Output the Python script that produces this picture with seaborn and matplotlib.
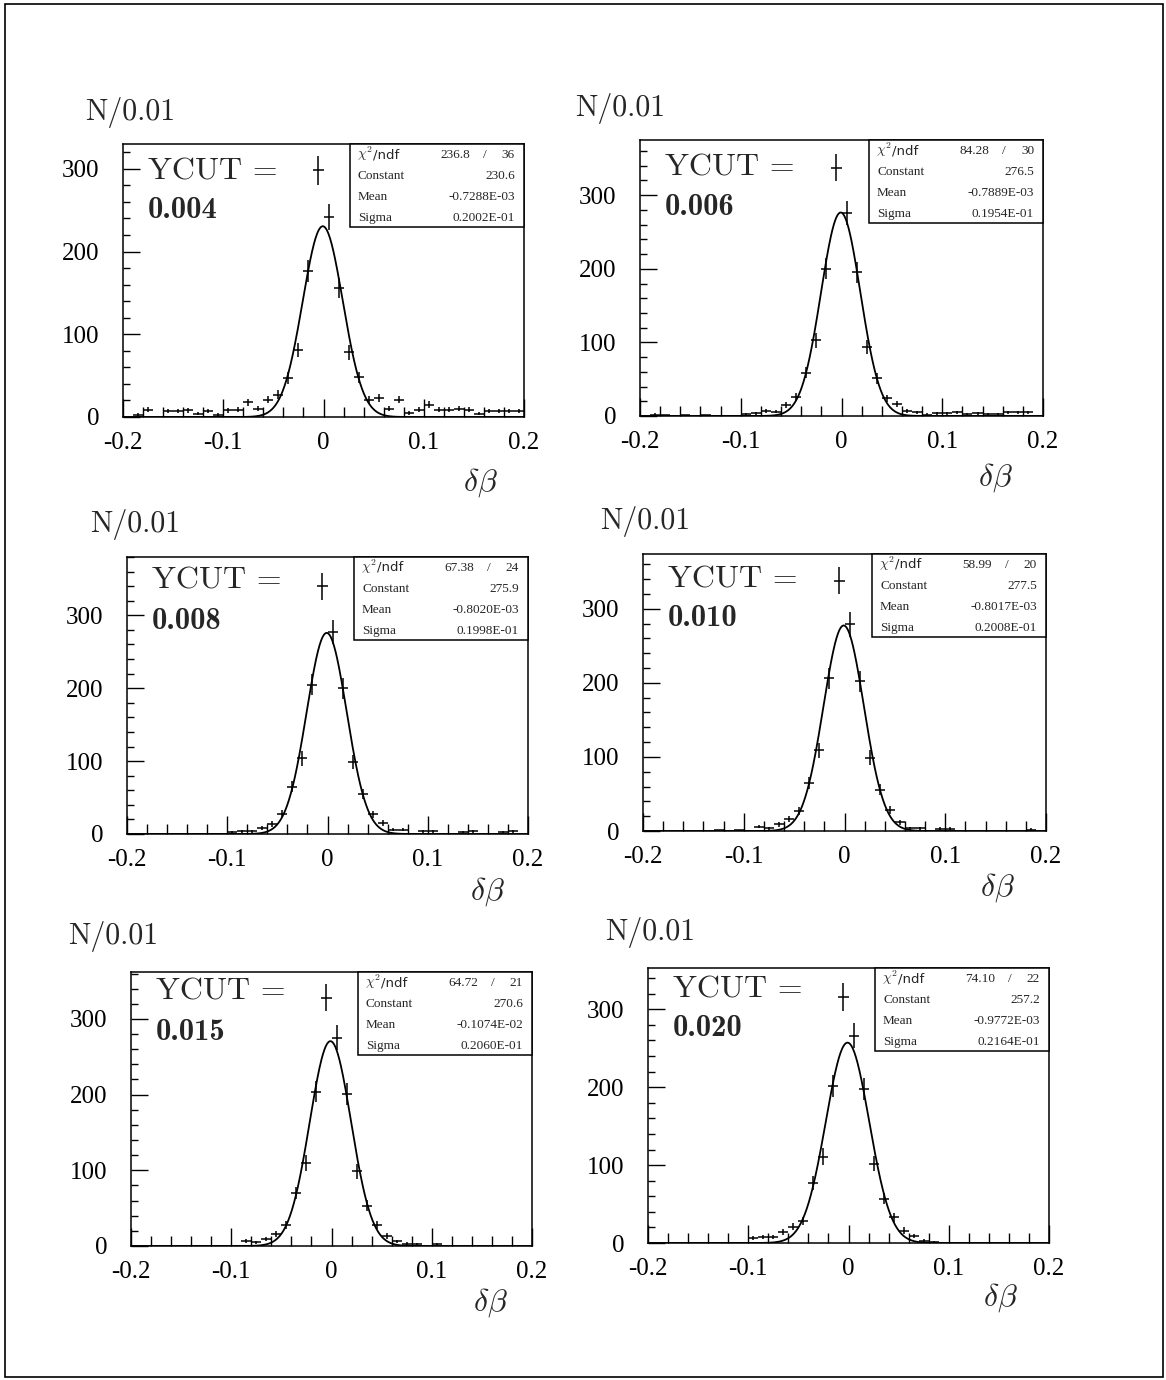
import numpy as np
import pandas as pd
import matplotlib
matplotlib.use("Agg")
import matplotlib.pyplot as plt
import seaborn as sns
from matplotlib.patches import Rectangle
from matplotlib.ticker import MultipleLocator, FixedLocator, FixedFormatter

# ---------------- data ----------------
bin_centers = np.round(np.arange(-0.195, 0.2, 0.01), 3)   # 40 bins of width 0.01
bin_half_width = 0.005

counts_004 = [0, 3, 9, 0, 7, 7, 8, 4, 7, 3, 8, 9, 18, 10, 21, 27, 47, 81, 177, 298,
              242, 156, 78, 48, 21, 23, 10, 21, 5, 9, 15, 9, 9, 10, 9, 4, 7, 7, 7, 7]
counts_006 = [0, 2, 1, 0, 1, 0, 1, 0, 0, 0, 3, 4, 7, 6, 15, 26, 59, 103, 200, 337,
              276, 195, 94, 51, 24, 16, 7, 5, 2, 4, 4, 5, 3, 4, 3, 3, 5, 5, 5, 0]
counts_008 = [0, 0, 0, 0, 0, 0, 0, 0, 0, 0, 3, 4, 4, 8, 14, 28, 65, 104, 205, 340,
              277, 200, 99, 55, 27, 15, 6, 6, 0, 4, 4, 0, 0, 3, 4, 0, 0, 3, 4, 0]
counts_010 = [0, 0, 0, 0, 0, 0, 0, 1, 0, 1, 0, 6, 4, 9, 16, 27, 65, 109, 206, 338,
              279, 202, 99, 56, 29, 12, 4, 4, 0, 3, 3, 0, 0, 0, 0, 0, 0, 0, 2, 0]
counts_015 = [0, 0, 0, 0, 0, 0, 0, 0, 0, 0, 0, 7, 5, 9, 16, 28, 70, 110, 204, 328,
              275, 201, 99, 53, 28, 13, 6, 3, 2, 0, 2, 0, 0, 0, 0, 0, 0, 0, 0, 0]
counts_020 = [0, 0, 0, 0, 0, 0, 0, 0, 0, 0, 6, 8, 8, 14, 21, 28, 77, 111, 202, 316,
              266, 198, 102, 57, 33, 16, 9, 3, 1, 0, 0, 0, 0, 0, 0, 0, 0, 0, 0, 0]

ycut_labels = ["0.004", "0.006", "0.008", "0.010", "0.015", "0.020"]
chi2_text = ["236.8", "84.28", "67.38", "58.99", "64.72", "74.10"]
ndf_text = ["36", "30", "24", "20", "21", "22"]
const_text = ["230.6", "276.5", "275.9", "277.5", "270.6", "257.2"]
mean_text = ["-0.7288E-03", "-0.7889E-03", "-0.8020E-03", "-0.8017E-03", "-0.1074E-02", "-0.9772E-03"]
sigma_text = ["0.2002E-01", "0.1954E-01", "0.1998E-01", "0.2008E-01", "0.2060E-01", "0.2164E-01"]
fit_constant = [230.6, 276.5, 275.9, 277.5, 270.6, 257.2]
fit_mean = [-0.7288e-03, -0.7889e-03, -0.8020e-03, -0.8017e-03, -0.1074e-02, -0.9772e-03]
fit_sigma = [0.2002e-01, 0.1954e-01, 0.1998e-01, 0.2008e-01, 0.2060e-01, 0.2164e-01]
y_top = [330, 375, 380, 374, 362, 353]

x_ticks = [-0.2, -0.1, 0.0, 0.1, 0.2]
x_tick_labels = ["-0.2", "-0.1", "0", "0.1", "0.2"]
y_ticks = [0, 100, 200, 300]
y_tick_labels = ["0", "100", "200", "300"]

all_counts = [counts_004, counts_006, counts_008, counts_010, counts_015, counts_020]

# ---------------- layout (pixels) ----------------
W, H = 1166, 1380
axes_px = [(123, 524, 144, 417), (640, 1043, 140, 416),
           (127, 528, 557, 834), (643, 1046, 554, 831),
           (131, 532, 972, 1246), (648, 1049, 968, 1243)]
ylab_off = [(38, 32), (65, 32), (37, 32), (43, 33), (63, 35), (43, 36)]
xlab_off = [(44, 66), (48, 62), (41, 58), (49, 57), (42, 57), (49, 55)]
ycut_base = [36, 35, 32, 33, 28, 29]
num_base = [74, 75, 72, 72, 68, 68]

sns.set_theme(style="ticks")
plt.rcParams["font.family"] = ["Liberation Serif", "DejaVu Serif"]
plt.rcParams["axes.unicode_minus"] = False
plt.rcParams["mathtext.fontset"] = "cm"

fig = plt.figure(figsize=(W / 100, H / 100), dpi=100)
fig.patch.set_facecolor("white")


def fx(px):
    return px / W


def fy(py):
    return 1 - py / H


for k, (l, r, t, b) in enumerate(axes_px):
    ax = fig.add_axes([fx(l), fy(b), fx(r) - fx(l), (b - t) / H])
    ax.set_facecolor("white")
    counts = np.array(all_counts[k], dtype=float)
    df = pd.DataFrame({"x": bin_centers, "n": counts})
    nz = df[df["n"] > 0]
    ax.errorbar(nz["x"], nz["n"], xerr=bin_half_width, yerr=np.sqrt(nz["n"]),
                fmt="none", ecolor="black", elinewidth=1.1, capsize=0, zorder=3)

    xf = np.linspace(-0.2, 0.2, 801)
    yf = fit_constant[k] * np.exp(-0.5 * ((xf - fit_mean[k]) / fit_sigma[k]) ** 2)
    sns.lineplot(x=xf, y=yf, ax=ax, color="black", linewidth=1.3, estimator=None, sort=False)

    ax.set_xlim(-0.2, 0.2)
    ax.set_ylim(0, y_top[k])
    ax.xaxis.set_major_locator(FixedLocator(x_ticks))
    ax.xaxis.set_major_formatter(FixedFormatter(x_tick_labels))
    ax.xaxis.set_minor_locator(MultipleLocator(0.02))
    ax.yaxis.set_major_locator(FixedLocator(y_ticks))
    ax.yaxis.set_major_formatter(FixedFormatter(y_tick_labels))
    ax.yaxis.set_minor_locator(MultipleLocator(20))
    ax.tick_params(axis="both", which="both", direction="in", top=False, right=False,
                   color="black", width=1.0, labelsize=18, labelcolor="black")
    ax.tick_params(axis="x", which="major", length=13, pad=11)
    ax.tick_params(axis="x", which="minor", length=7)
    ax.tick_params(axis="y", which="major", length=12, pad=17)
    ax.tick_params(axis="y", which="minor", length=5)
    ax.set_xlabel("")
    ax.set_ylabel("")
    for s in ax.spines.values():
        s.set_color("black")
        s.set_linewidth(1.1)

    # axis titles
    fig.text(fx(l - ylab_off[k][0]), fy(t - ylab_off[k][1]), "N/0.01",
             family=["cmr10", "DejaVu Serif"], fontsize=21.5, ha="left", va="center")
    fig.text(fx(r - xlab_off[k][0]), fy(b + xlab_off[k][1]), r"$\delta\beta$",
             fontsize=23, ha="center", va="center")

    # YCUT label
    fig.text(fx(l + 25), fy(t + ycut_base[k]), "YCUT =",
             family=["cmr10", "DejaVu Serif"], fontsize=23, ha="left", va="baseline")
    fig.text(fx(l + 25), fy(t + num_base[k]), ycut_labels[k],
             family=["cmb10", "DejaVu Serif"], fontsize=22, ha="left", va="baseline")

    # stats box
    bw, bh = 174, 83
    bl = r - bw
    fig.add_artist(Rectangle((fx(bl), fy(t + bh)), bw / W, bh / H, transform=fig.transFigure,
                             facecolor="white", edgecolor="black", linewidth=1.1, zorder=5))
    rows = [("chi2", None), ("Constant", const_text[k]),
            ("Mean", mean_text[k]), ("Sigma", sigma_text[k])]
    for j, (lab, val) in enumerate(rows):
        yb = t + 14 + 21 * j
        if j == 0:
            fig.text(fx(bl + 7), fy(yb), r"$\chi^2$", fontsize=10, ha="left", va="baseline", zorder=6)
            fig.text(fx(bl + 23), fy(yb), "/ndf", family=["DejaVu Sans"], fontsize=9.5,
                     ha="left", va="baseline", zorder=6)
            fig.text(fx(r - 54), fy(yb), chi2_text[k], fontsize=9.5, ha="right", va="baseline", zorder=6)
            fig.text(fx(r - 39), fy(yb), "/", fontsize=9.5, ha="center", va="baseline", zorder=6)
            fig.text(fx(r - 9), fy(yb), ndf_text[k], fontsize=9.5, ha="right", va="baseline", zorder=6)
        else:
            fig.text(fx(bl + 8), fy(yb), lab, fontsize=9.5, ha="left", va="baseline", zorder=6)
            fig.text(fx(r - 9), fy(yb), val, fontsize=9.5, ha="right", va="baseline", zorder=6)

# page frame
fig.add_artist(Rectangle((fx(5), fy(1377)), (1163 - 5) / W, (1377 - 4) / H,
                         transform=fig.transFigure, fill=False, edgecolor="black", linewidth=1.2))

fig.savefig("out.png", dpi=100, facecolor="white")
